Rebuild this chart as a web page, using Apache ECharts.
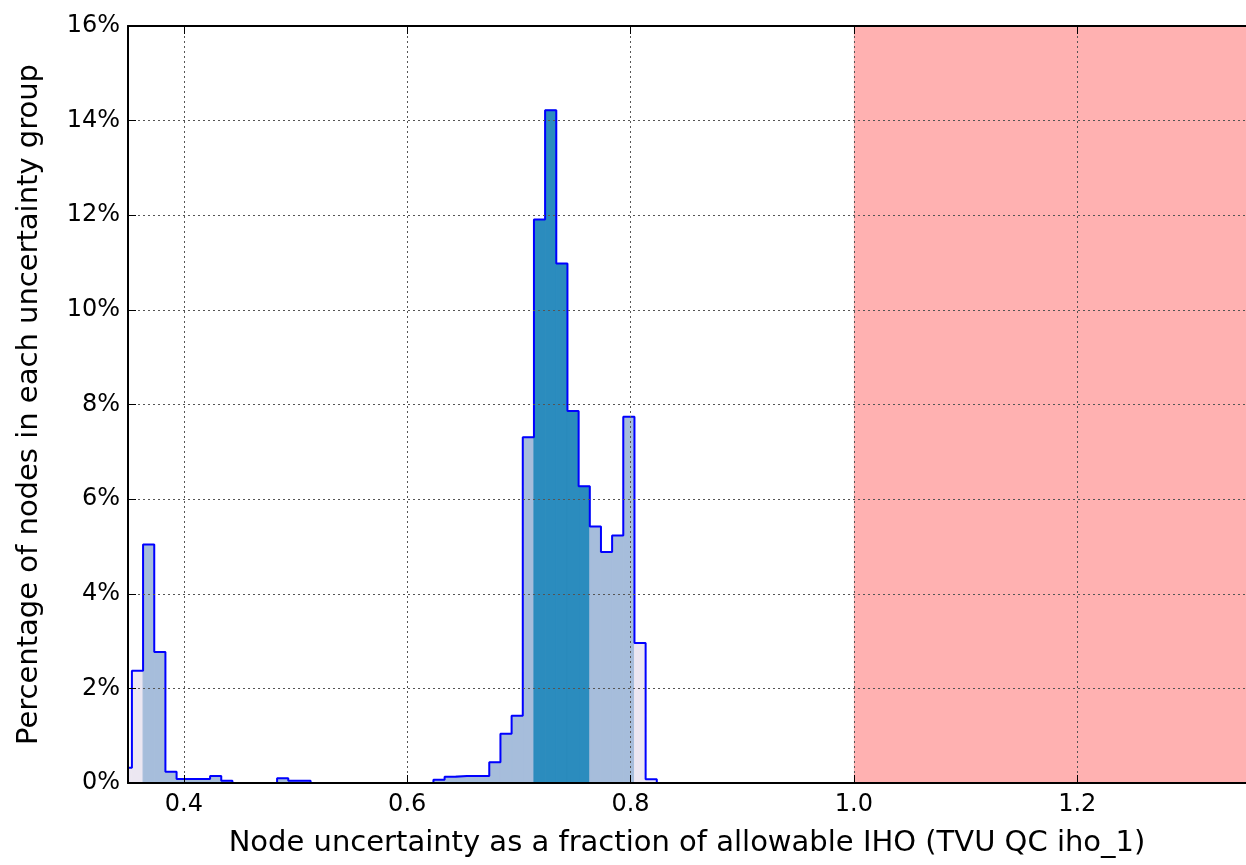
<!DOCTYPE html>
<html>
<head>
<meta charset="utf-8">
<script src="https://cdn.jsdelivr.net/npm/echarts@6/dist/echarts.min.js"></script>
<style>
html,body{margin:0;padding:0;background:#fff;}
#chart{width:1246px;height:865px;}
</style>
</head>
<body>
<div id="chart"></div>
<script>
// ---- data ----
const binStart = 0.3435;          // left edge of first bin
const binWidth = 0.01;
const percent = [
  0.32, 2.37, 5.04, 2.77, 0.24, 0.085, 0.085, 0.085, 0.15, 0.05,
  0, 0, 0, 0, 0.10, 0.05, 0.05, 0, 0, 0,
  0, 0, 0, 0, 0, 0, 0, 0, 0.07, 0.13,
  0.15, 0.15, 0.15, 0.44, 1.04, 1.42, 7.31, 11.91, 14.22, 10.98,
  7.86, 6.27, 5.42, 4.88, 5.23, 7.74, 2.96, 0.08
];
const groupEdges = [0.3635, 0.7135, 0.7635, 0.8035];   // lavender | light | dark | light | lavender
const groupColors = ['#ece7f2', '#a6bddb', '#2b8cbe'];
const xTicks = [0.4, 0.6, 0.8, 1.0, 1.2];
const xMin = 0.35, xMax = 1.3511;
const failStart = 1.0;
const xTitle = 'Node uncertainty as a fraction of allowable IHO (TVU QC iho_1)';
const yTitle = 'Percentage of nodes in each uncertainty group';

// ---- build ----
const bins = percent.map((p, k) => {
  const l = +(binStart + k * binWidth).toFixed(4);
  return [l, +(l + binWidth).toFixed(4), p];
});
function colorFor(l) {
  const eps = 1e-6;
  if (l < groupEdges[0] - eps || l >= groupEdges[3] - eps) return groupColors[0];
  if (l >= groupEdges[1] - eps && l < groupEdges[2] - eps) return groupColors[2];
  return groupColors[1];
}
const outline = [[bins[0][0], 0]];
bins.forEach(b => { outline.push([b[0], b[2]]); outline.push([b[1], b[2]]); });
outline.push([bins[bins.length - 1][1], 0]);

const FONT = 'DejaVu Sans';
const chart = echarts.init(document.getElementById('chart'), null, {renderer: 'canvas'});
const gridLine = {show: true, lineStyle: {color: '#555', width: 1, type: [2, 3]}};
chart.setOption({
  animation: false,
  backgroundColor: '#fff',
  grid: {left: 128, top: 26, right: 0, bottom: 82, containLabel: false},
  xAxis: [{
    type: 'value', min: xMin, max: xMax, z: 10,
    name: xTitle, nameLocation: 'middle', nameGap: 46,
    nameTextStyle: {fontFamily: FONT, fontSize: 29, color: '#000'},
    axisLine: {show: true, onZero: false, lineStyle: {color: '#000', width: 2}},
    axisTick: {show: true, inside: true, length: 8, customValues: xTicks, lineStyle: {color: '#000', width: 1}},
    axisLabel: {customValues: xTicks, formatter: v => v.toFixed(1), fontFamily: FONT, fontSize: 24, color: '#000', margin: 10},
    splitLine: gridLine
  }, {
    type: 'value', position: 'top', min: xMin, max: xMax, z: 10,
    axisLine: {show: true, onZero: false, lineStyle: {color: '#000', width: 2}},
    axisTick: {show: true, inside: true, length: 8, customValues: xTicks, lineStyle: {color: '#000', width: 1}},
    axisLabel: {show: false},
    splitLine: {show: false}
  }],
  yAxis: {
    type: 'value', min: 0, max: 16, interval: 2, z: 10,
    name: yTitle, nameLocation: 'middle', nameGap: 84,
    nameTextStyle: {fontFamily: FONT, fontSize: 29, color: '#000'},
    axisLine: {show: true, onZero: false, lineStyle: {color: '#000', width: 2}},
    axisTick: {show: true, inside: true, length: 8, lineStyle: {color: '#000', width: 1}},
    axisLabel: {formatter: '{value}%', fontFamily: FONT, fontSize: 24, color: '#000', margin: 8},
    splitLine: gridLine
  },
  series: [{
    type: 'custom',
    z: 2,
    data: bins,
    encode: {x: [0, 1], y: 2},
    renderItem: function (params, api) {
      const l = api.value(0), r = api.value(1), h = api.value(2);
      if (!(h > 0)) return null;
      const p0 = api.coord([l, h]);
      const p1 = api.coord([r, 0]);
      const rect = echarts.graphic.clipRectByRect(
        {x: p0[0], y: p0[1], width: p1[0] - p0[0], height: p1[1] - p0[1]},
        {x: params.coordSys.x, y: params.coordSys.y, width: params.coordSys.width, height: params.coordSys.height});
      if (!rect) return null;
      const c = colorFor(l);
      return {type: 'rect', shape: rect, style: {fill: c, stroke: c, lineWidth: 1}};
    },
    markArea: {
      silent: true,
      itemStyle: {color: '#ffb1b1', opacity: 1},
      data: [[{xAxis: failStart}, {xAxis: xMax}]]
    }
  }, {
    type: 'line',
    z: 3,
    data: outline,
    symbol: 'none',
    clip: true,
    lineStyle: {color: '#0000ff', width: 2},
    itemStyle: {color: '#0000ff'}
  }]
});
</script>
</body>
</html>
